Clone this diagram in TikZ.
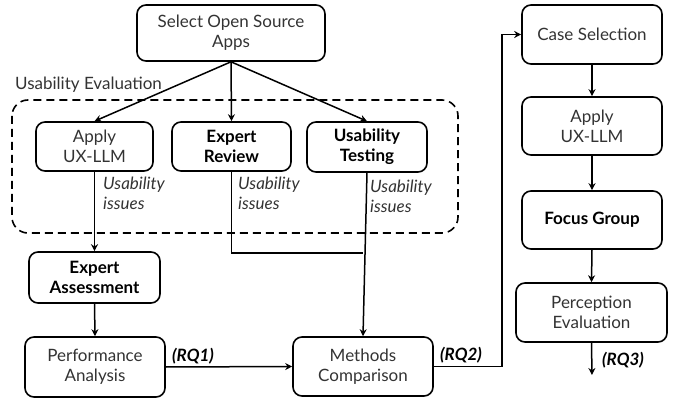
\documentclass[tikz,border=0pt]{standalone}
\usepackage{fontspec}
\setmainfont{Lato}
\usetikzlibrary{arrows.meta}
\tikzset{font=\fontsize{17}{20}\selectfont}
\tikzset{
  box/.style={draw,line width=1.6pt,rounded corners=9pt,align=center,
    inner sep=0pt,text=black!80},
  keybox/.style={box,font=\fontsize{17}{20}\selectfont\bfseries,text=black},
  flow/.style={line width=1.5pt,-{Stealth[length=7pt,width=7pt]}},
  note/.style={font=\fontsize{17}{20}\selectfont\itshape,align=left,
    text=black!80,inner sep=0pt},
  rq/.style={font=\fontsize{17}{20}\selectfont\bfseries\itshape,inner sep=0pt}
}

\begin{document}
\begin{tikzpicture}[x=1pt,y=-1pt]
  \useasboundingbox (0,0) rectangle (678,401);

  % usability evaluation frame
  \draw[line width=1.6pt,dash pattern=on 8pt off 5pt,rounded corners=16pt]
    (12,100) rectangle (458,233);
  \node[anchor=west,inner sep=0pt,text=black!80] (uelabel) at (15,85) {Usability Evaluation};

  \node[box,minimum width=188pt,minimum height=56pt] (apps) at (231,33)
    {Select Open Source\\Apps};
  \node[box,minimum width=117pt,minimum height=49pt] (llm) at (94.5,146.5)
    {Apply\\UX-LLM};
  \node[keybox,minimum width=119pt,minimum height=49pt] (review) at (231.5,146.5)
    {Expert\\Review};
  \node[keybox,minimum width=120pt,minimum height=50pt] (testing) at (367,147)
    {Usability\\Testing};
  \node[keybox,minimum width=131pt,minimum height=51pt] (assess) at (94.5,277.5)
    {Expert\\Assessment};
  \node[box,minimum width=140pt,minimum height=60pt] (perf) at (95,367)
    {Performance\\Analysis};
  \node[box,minimum width=140pt,minimum height=59pt] (methods) at (363,366.5)
    {Methods\\Comparison};

  % right column
  \node[box,minimum width=140pt,minimum height=59pt] (case) at (592,34.5)
    {Case Selection};
  \node[box,minimum width=140pt,minimum height=58pt] (llmtwo) at (592,126)
    {Apply\\UX-LLM};
  \node[keybox,minimum width=140pt,minimum height=58pt] (focus) at (592,220)
    {Focus Group};
  \node[box,minimum width=151pt,minimum height=59pt] (percep) at (591.5,312.5)
    {Perception\\Evaluation};

  \coordinate (join) at (363,253);
  \coordinate (turn) at (502,366.5);
  \coordinate (rqend) at (592,375);

  \draw[flow] (apps.south) -- (llm.north);
  \draw[flow] (apps.south) -- (review.north);
  \draw[flow] (apps.south) -- (testing.north);

  \draw[flow] (llm.south) -- (assess.north);
  \node[note,anchor=north west] (noteA) at (103,177) {Usability\\issues};
  \draw[line width=1.5pt] (review.south) |- (join);
  \node[note,anchor=north west] (noteB) at (238,177) {Usability\\issues};
  \draw[flow] (testing.south) -- (methods.north);
  \node[note,anchor=north west] (noteC) at (370,180) {Usability\\issues};

  \draw[flow] (assess.south) -- (perf.north);
  \draw[flow] (perf.east) -- (methods.west);
  \node[rq,anchor=west] (rqone) at (172,356) {(RQ1)};

  \draw[flow] (methods.east) -- (turn) |- (case.west);
  \node[rq,anchor=west] (rqtwo) at (440,355) {(RQ2)};

  \draw[flow] (case.south) -- (llmtwo.north);
  \draw[flow] (llmtwo.south) -- (focus.north);
  \draw[flow] (focus.south) -- (percep.north);
  \draw[flow] (percep.south) -- (rqend);
  \node[rq,anchor=west] (rqthree) at (602,360) {(RQ3)};
\end{tikzpicture}
\end{document}
